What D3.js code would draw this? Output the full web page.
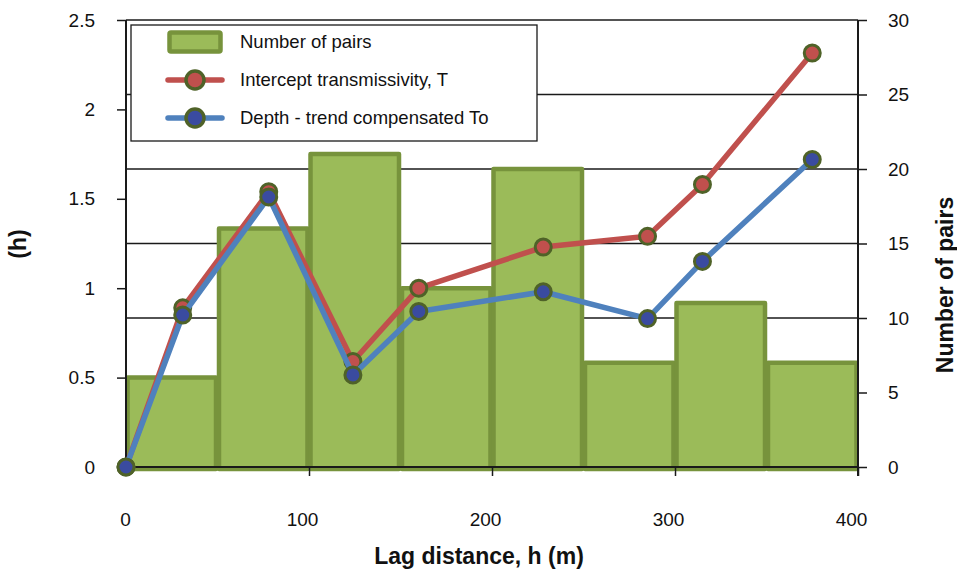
<!DOCTYPE html>
<html>
<head>
<meta charset="utf-8">
<script src="https://cdn.jsdelivr.net/npm/d3@7/dist/d3.min.js"></script>
<style>
  html, body { margin: 0; padding: 0; background: #fff; }
  svg { display: block; font-family: "Liberation Sans", Arial, sans-serif; }
</style>
</head>
<body>
<svg id="chart" width="957" height="571"></svg>
<script>
// Histogram of pair counts per 50 m lag bin
const binStart = [0, 50, 100, 150, 200, 250, 300, 350];
const binWidth = 50;
const pairs = [6, 16, 21, 12, 20, 7, 11, 7];

// Semivariogram points
const lag = [0, 31, 78, 124, 160, 228, 285, 315, 375];
const interceptT = [0, 0.89, 1.54, 0.59, 1.00, 1.23, 1.29, 1.58, 2.315];
const compensatedTo = [0, 0.85, 1.51, 0.515, 0.87, 0.98, 0.83, 1.15, 1.72];

// Tick labels
const xTicks = [0, 100, 200, 300, 400];
const leftTicks = [0, 0.5, 1, 1.5, 2, 2.5];
const rightTicks = [0, 5, 10, 15, 20, 25, 30];

const seriesNames = ["Number of pairs", "Intercept transmissivity, T", "Depth - trend compensated To"];

const svg = d3.select("#chart");
const m = { left: 126, right: 858, top: 20, bottom: 467 };

const x = d3.scaleLinear().domain([0, 400]).range([m.left, m.right]);
const yL = d3.scaleLinear().domain([0, 2.5]).range([m.bottom, m.top]);
const yR = d3.scaleLinear().domain([0, 30]).range([m.bottom, m.top]);

const colors = {
  barFill: "#9BBB59", barStroke: "#77933C",
  red: "#C0504D", blue: "#4F81BD",
  redDot: "#C0504D", blueDot: "#3A4BA0", dotStroke: "#4F6228"
};

// Horizontal gridlines follow the right-hand axis
svg.append("g")
  .selectAll("line")
  .data(rightTicks.filter(d => d > 0))
  .join("line")
  .attr("x1", m.left).attr("x2", m.right)
  .attr("y1", d => yR(d)).attr("y2", d => yR(d))
  .attr("stroke", "#1a1a1a").attr("stroke-width", 1.5);

// Bars
svg.append("g")
  .selectAll("rect")
  .data(binStart)
  .join("rect")
  .attr("x", d => x(d) + 1.5)
  .attr("width", d => x(d + binWidth) - x(d) - 3)
  .attr("y", (d, i) => yR(pairs[i]))
  .attr("height", (d, i) => m.bottom + 2 - yR(pairs[i]))
  .attr("fill", colors.barFill)
  .attr("stroke", colors.barStroke)
  .attr("stroke-width", 4.5)
  .attr("stroke-linejoin", "round");

// Axes
const left = svg.append("g").attr("transform", `translate(${m.left},0)`)
  .call(d3.axisLeft(yL).tickValues(leftTicks).tickFormat(d3.format("")).tickSize(9).tickPadding(22));
const right = svg.append("g").attr("transform", `translate(${m.right},0)`)
  .call(d3.axisRight(yR).tickValues(rightTicks).tickSize(9).tickPadding(21));
const bottom = svg.append("g").attr("transform", `translate(0,${m.bottom})`)
  .call(d3.axisBottom(x).tickValues(xTicks).tickSize(9).tickPadding(37));

[left, right, bottom].forEach(g => {
  g.select(".domain").attr("stroke", "#1a1a1a").attr("stroke-width", 2);
  g.selectAll(".tick line").attr("stroke", "#1a1a1a").attr("stroke-width", 1.5);
  g.selectAll(".tick text").attr("fill", "#111").attr("font-size", 19)
    .attr("font-family", "Liberation Sans, Arial, sans-serif");
});
// category-style labels sit slightly left of their ticks
bottom.selectAll(".tick text").attr("dx", d => d === 0 ? -1 : -7);
left.select(".domain").attr("d", `M0,${m.bottom}V${m.top}`);
right.select(".domain").attr("d", `M0,${m.bottom + 9}V${m.top}`);
bottom.select(".domain").attr("d", `M${m.left},0H${m.right}`);

// Lines and markers
function drawSeries(vals, lineColor, dotColor) {
  const line = d3.line().x((d, i) => x(lag[i])).y(d => yL(d));
  svg.append("path")
    .datum(vals)
    .attr("d", line)
    .attr("fill", "none")
    .attr("stroke", lineColor)
    .attr("stroke-width", 5.5)
    .attr("stroke-linejoin", "round");
  svg.append("g")
    .selectAll("circle")
    .data(vals)
    .join("circle")
    .attr("cx", (d, i) => x(lag[i]))
    .attr("cy", d => yL(d))
    .attr("r", 8)
    .attr("fill", dotColor)
    .attr("stroke", colors.dotStroke)
    .attr("stroke-width", 3);
}
drawSeries(interceptT, colors.red, colors.redDot);
drawSeries(compensatedTo, colors.blue, colors.blueDot);

// Legend
const lg = svg.append("g");
lg.append("rect")
  .attr("x", 131).attr("y", 25).attr("width", 406).attr("height", 116)
  .attr("fill", "#fff").attr("stroke", "#1a1a1a").attr("stroke-width", 1.3);
lg.append("rect")
  .attr("x", 169.5).attr("y", 32.5).attr("width", 51).attr("height", 19)
  .attr("fill", colors.barFill).attr("stroke", colors.barStroke).attr("stroke-width", 4.5)
  .attr("rx", 1.5);
[[colors.red, colors.redDot, 80], [colors.blue, colors.blueDot, 118]].forEach(([lc, dc, yy]) => {
  lg.append("line").attr("x1", 168).attr("x2", 222).attr("y1", yy).attr("y2", yy)
    .attr("stroke", lc).attr("stroke-width", 5.5).attr("stroke-linecap", "round");
  lg.append("circle").attr("cx", 195).attr("cy", yy).attr("r", 9)
    .attr("fill", dc).attr("stroke", colors.dotStroke).attr("stroke-width", 3.5);
});
lg.selectAll("text.lab")
  .data(seriesNames)
  .join("text")
  .attr("class", "lab")
  .attr("x", 240)
  .attr("y", (d, i) => [42, 80, 118][i])
  .attr("dy", "0.35em")
  .attr("font-size", 18.5)
  .attr("fill", "#111")
  .text(d => d);

// Axis titles
svg.append("text")
  .attr("x", 479).attr("y", 564)
  .attr("text-anchor", "middle")
  .attr("font-size", 23).attr("font-weight", "bold").attr("fill", "#111")
  .text("Lag distance, h (m)");
svg.append("text")
  .attr("transform", "translate(26,244) rotate(-90)")
  .attr("text-anchor", "middle")
  .attr("font-size", 23).attr("font-weight", "bold").attr("fill", "#111")
  .text("(h)");
svg.append("text")
  .attr("transform", "translate(953,285) rotate(-90)")
  .attr("text-anchor", "middle")
  .attr("font-size", 23).attr("font-weight", "bold").attr("fill", "#111")
  .text("Number of pairs");
</script>
</body>
</html>
